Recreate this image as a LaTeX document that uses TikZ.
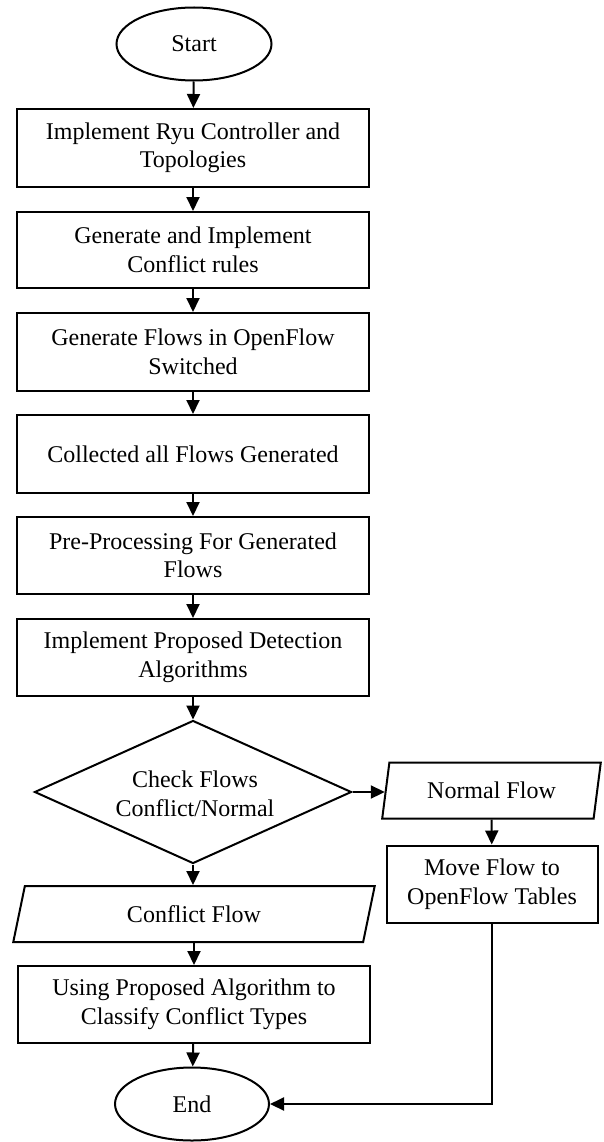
\documentclass[tikz,border=0pt]{standalone}
\usepackage{fontspec}
\setmainfont{Liberation Serif}
\usetikzlibrary{shapes.geometric,arrows.meta}
\begin{document}
\begin{tikzpicture}[x=1pt,y=-1pt,
  every node/.style={font=\fontsize{24}{28.5}\selectfont, align=center, inner sep=0pt},
  proc/.style={draw, line width=2pt, rectangle, minimum width=352pt, minimum height=77pt},
  term/.style={draw, line width=2pt, ellipse, minimum width=155pt, minimum height=73pt},
  dec/.style={draw, line width=2pt, diamond, minimum width=317pt, minimum height=143pt},
  io/.style={draw, line width=2pt, trapezium, trapezium left angle=75, trapezium right angle=105, trapezium stretches=true},
  arr/.style={draw, line width=2pt, -{Triangle[length=14pt,width=13pt]}}
]
\useasboundingbox (0,0) rectangle (604,1142);
\node[term] (start) at (194,44) {Start};
\node[proc, minimum height=78pt] (b1) at (193,148) {Implement Ryu Controller and\\Topologies};
\node[proc, minimum height=76pt] (b2) at (193,250) {Generate and Implement\\Conflict rules};
\node[proc, minimum height=78pt] (b3) at (193,352) {Generate Flows in OpenFlow\\Switched};
\node[proc, minimum height=78pt] (b4) at (193,454) {Collected all Flows Generated};
\node[proc] (b5) at (193,555.5) {Pre-Processing For Generated\\Flows};
\node[proc] (b6) at (193,657.5) {Implement Proposed Detection\\Algorithms};
\node[dec] (dia) at (193,792) {};
\node (diatext) at (195,794) {Check Flows\\Conflict/Normal};
\node[io, minimum width=219pt, minimum height=56pt] (normal) at (491.5,790.5) {Normal Flow};
\node[proc, minimum width=211pt] (move) at (492,884) {Move Flow to\\OpenFlow Tables};
\node[io, minimum width=362pt, minimum height=56pt] (conflict) at (194,914) {Conflict Flow};
\node[proc] (b7) at (194,1004.5) {Using Proposed Algorithm to\\Classify Conflict Types};
\node[term, minimum width=154pt] (end) at (192,1104) {End};
\draw[arr] (start) -- (b1);
\draw[arr] (b1) -- (b2);
\draw[arr] (b2) -- (b3);
\draw[arr] (b3) -- (b4);
\draw[arr] (b4) -- (b5);
\draw[arr] (b5) -- (b6);
\draw[arr] (b6) -- (dia);
\draw[arr] (dia.east) -- (dia.east -| normal.west);
\draw[arr] (normal) -- (move);
\draw[arr] (dia.south) -- (dia.south |- conflict.north);
\draw[arr] (conflict.south -| b7.north) -- (b7.north);
\draw[arr] (b7) -- (end);
\draw[arr] (move.south) |- (end.east);
\end{tikzpicture}
\end{document}
